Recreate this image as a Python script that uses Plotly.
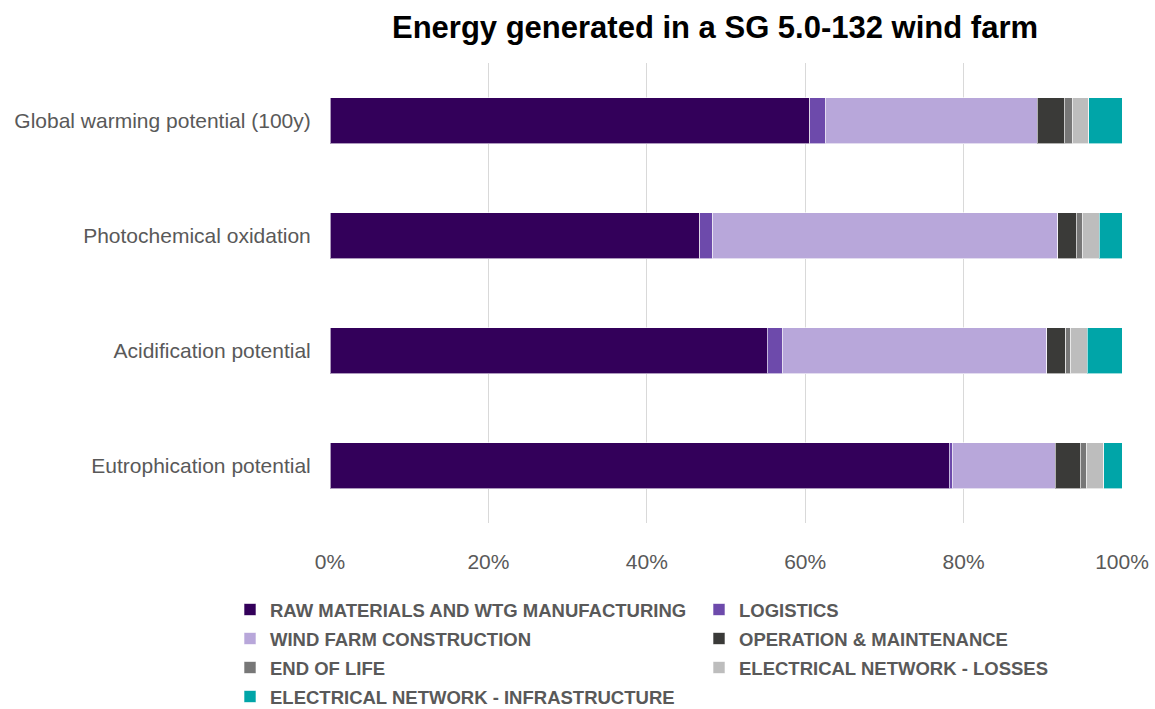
import plotly.graph_objects as go

categories = ["Global warming potential (100y)", "Photochemical oxidation",
              "Acidification potential", "Eutrophication potential"]

series_names = ["RAW MATERIALS AND WTG MANUFACTURING", "LOGISTICS",
                "WIND FARM CONSTRUCTION", "OPERATION & MAINTENANCE",
                "END OF LIFE", "ELECTRICAL NETWORK - LOSSES",
                "ELECTRICAL NETWORK - INFRASTRUCTURE"]

raw_materials = [60.6, 46.7, 55.2, 78.2]
logistics = [1.9, 1.65, 1.9, 0.35]
construction = [26.8, 43.55, 33.4, 13.05]
operation = [3.4, 2.3, 2.4, 3.1]
end_of_life = [1.0, 0.8, 0.6, 0.85]
losses = [2.1, 2.1, 2.1, 2.15]
infrastructure = [4.2, 2.9, 4.4, 2.3]

tick_values = [0, 0.2, 0.4, 0.6, 0.8, 1.0]
tick_labels = ["0%", "20%", "40%", "60%", "80%", "100%"]

series_values = [raw_materials, logistics, construction, operation,
                 end_of_life, losses, infrastructure]
colors = ["#33005a", "#6d4aab", "#b8a7da", "#3a3a38", "#777777", "#bdbdbd", "#00a5a8"]
legend_ids = ["legend", "legend2", "legend", "legend2", "legend", "legend2", "legend"]

fig = go.Figure()
for name, vals, col, lg in zip(series_names, series_values, colors, legend_ids):
    fig.add_trace(go.Bar(
        y=categories, x=[v / 100 for v in vals],
        name="<span style='font-size:18.5px'><b>" + name + "</b></span>",
        orientation="h", legend=lg,
        marker=dict(color=col, line=dict(color="rgba(255,255,255,0.6)", width=1)),
    ))

legend_font = dict(family="Arial, Liberation Sans", size=20, color="#595959")
legend_common = dict(orientation="h", xref="container", yref="container",
                     xanchor="left", yanchor="top", y=1 - 590 / 709,
                     itemwidth=30, traceorder="normal", tracegroupgap=0,
                     entrywidthmode="pixels",
                     bgcolor="rgba(0,0,0,0)", font=legend_font)

fig.update_layout(
    barmode="stack",
    bargap=0.6,
    width=1155, height=709,
    paper_bgcolor="white", plot_bgcolor="white",
    margin=dict(l=330, r=33, t=63, b=186, autoexpand=False),
    title=dict(text="<b>Energy generated in a SG 5.0-132 wind farm</b>",
               x=715 / 1155, xanchor="center", y=1 - 27 / 709, yanchor="middle",
               font=dict(family="Arial, Liberation Sans", size=31, color="black")),
    xaxis=dict(range=[0, 1], tickvals=tick_values, ticktext=tick_labels,
               showgrid=True, gridcolor="#d9d9d9", gridwidth=1, zeroline=False,
               showline=False, ticks="outside", ticklen=20, tickcolor="rgba(0,0,0,0)",
               automargin=False,
               tickfont=dict(family="Arial, Liberation Sans", size=21, color="#595959")),
    yaxis=dict(autorange="reversed", showgrid=False, zeroline=False, showline=False,
               ticks="outside", ticklen=14, tickcolor="rgba(0,0,0,0)",
               automargin=False,
               tickfont=dict(family="Arial, Liberation Sans", size=21, color="#595959")),
    legend=dict(x=230 / 1155, entrywidth=440, **legend_common),
    legend2=dict(x=699 / 1155, entrywidth=380, **legend_common),
)

fig.write_html("out.html", post_script="document.body.style.margin='0px';",
               config={"displayModeBar": False})
